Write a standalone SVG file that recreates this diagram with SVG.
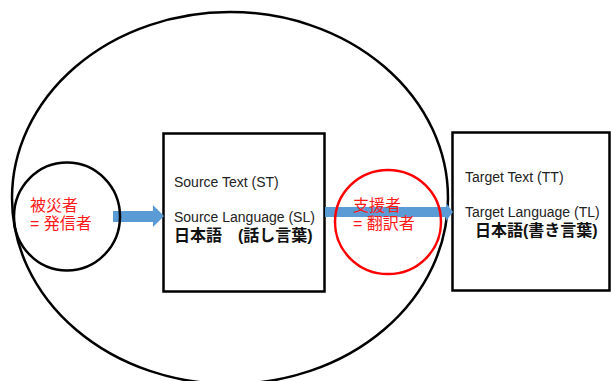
<svg xmlns="http://www.w3.org/2000/svg" width="611" height="381" viewBox="0 0 611 381">
<style>
.k{fill:none;stroke:#000;stroke-width:2.5}
.t{font-family:"Liberation Sans","Noto Sans CJK JP",sans-serif;font-size:14px;fill:#222}
.j{font-family:"Liberation Sans","Noto Sans CJK JP",sans-serif;font-size:16px;font-weight:bold;fill:#111}
.r{font-family:"Liberation Sans","Noto Sans CJK JP",sans-serif;font-size:16px;fill:#ff1a1a}
.a{fill:#5b9bd5}
</style>
<rect width="611" height="381" fill="#fff"/>
<g id="context">
<ellipse class="k" cx="230" cy="198" rx="218" ry="186"/>
</g>
<g id="source-box">
<rect class="k" x="163.5" y="133.5" width="161" height="158" stroke-width="3"/>
<text class="t" x="174" y="187">Source Text (ST)</text>
<text class="t" x="174" y="222">Source Language (SL)</text>
<text class="j" x="174" y="241">日本語　(話し言葉)</text>
</g>
<g id="target-box">
<rect class="k" x="452.5" y="132.5" width="157" height="158" stroke-width="3"/>
<text class="t" x="465" y="182">Target Text (TT)</text>
<text class="t" x="465" y="217">Target Language (TL)</text>
<text class="j" x="475" y="236">日本語(書き言葉)</text>
</g>
<g id="connectors">
<polygon class="a" points="113,211 153,211 153,205 164,216 153,227 153,222 113,222"/>
<polygon class="a" points="325,207 446,207 446,203 453,212 446,221 446,217 325,217"/>
</g>
<g id="sender">
<ellipse class="k" cx="67" cy="216.5" rx="53" ry="54"/>
<text class="r" x="30" y="210.5">被災者</text>
<text class="r" x="30" y="228.5">= 発信者</text>
</g>
<g id="translator">
<ellipse cx="388" cy="222" rx="53" ry="52" fill="none" stroke="#ff0000" stroke-width="2.5"/>
<text class="r" x="353" y="211">支援者</text>
<text class="r" x="353" y="229">= 翻訳者</text>
</g>
</svg>
